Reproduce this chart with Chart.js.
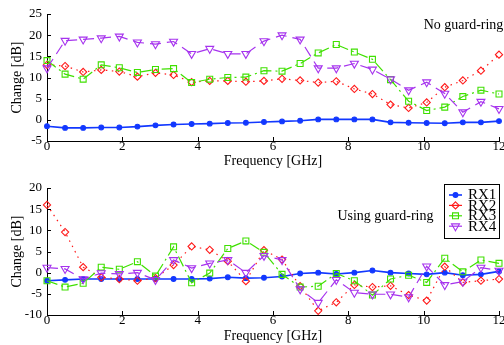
<!DOCTYPE html>
<html><head><meta charset="utf-8">
<script src="https://cdn.jsdelivr.net/npm/chart.js@4/dist/chart.umd.min.js"></script>
<style>
html,body{margin:0;padding:0;background:#fff;overflow:hidden;width:504px;height:345px;}
canvas{position:absolute;left:0;}
#c1{top:0;}
#c2{top:170px;}
</style></head><body>
<canvas id="c1" width="520" height="170"></canvas>
<canvas id="c2" width="520" height="175"></canvas>
<script>
// ---- data ----
const freqs = [0,0.48,0.96,1.44,1.92,2.4,2.88,3.36,3.84,4.32,4.8,5.28,5.76,6.24,6.72,7.2,7.68,8.16,8.64,9.12,9.6,10.08,10.56,11.04,11.52,12];
const seriesNames = ['RX1','RX2','RX3','RX4'];

// No guard-ring
const rx1Top = [-1.5,-1.9,-1.9,-1.8,-1.8,-1.6,-1.3,-1.1,-1.0,-0.9,-0.76,-0.7,-0.5,-0.37,-0.2,0.1,0.1,0.1,0.1,-0.6,-0.7,-0.76,-0.8,-0.6,-0.6,-0.3];
const rx2Top = [13.0,12.7,11.3,11.8,11.4,10.2,11.1,10.6,8.9,9.2,9.2,9.0,9.2,9.7,9.3,8.8,9.1,7.3,6.1,3.6,2.8,4.1,7.7,9.3,11.6,15.4];
const rx3Top = [14.0,10.8,9.6,13.0,12.3,11.2,11.9,12.1,8.8,9.6,10.0,10.1,11.6,11.5,13.3,15.8,17.8,16.0,14.3,9.5,4.4,2.2,3.0,5.5,7.0,6.1];
const rx4Top = [12.2,18.7,19.0,19.3,19.7,18.3,17.9,18.5,15.6,16.8,15.6,15.6,18.6,20.0,19.0,12.2,12.2,13.3,11.9,9.6,7.0,8.9,6.2,1.8,4.3,2.6];

// Using guard-ring
const rx1Bot = [-1.9,-1.7,-1.5,-1.5,-1.5,-1.5,-1.5,-1.5,-1.5,-1.4,-1.1,-1.3,-1.2,-0.9,-0.2,0.0,-0.3,0.0,0.5,0.0,-0.2,-0.4,0.0,-0.6,-0.4,0.3];
const rx2Bot = [16.0,9.6,1.3,-1.1,-1.5,-1.9,-1.3,1.8,6.2,5.4,2.7,-2.0,5.3,3.1,-3.2,-9.0,-7.0,-2.9,-3.4,-3.1,-5.3,-6.6,1.4,-2.3,-1.9,-1.5];
const rx3Bot = [-1.9,-3.4,-2.5,1.3,0.8,2.6,-0.8,6.1,-2.4,-0.1,5.7,7.5,4.8,-0.4,-3.4,-3.2,-0.2,-1.9,-5.3,-1.5,-0.6,-2.3,3.4,0.2,3.0,2.2];
const rx4Bot = [1.2,0.9,-1.5,-0.1,-0.3,0.0,-1.7,3.0,1.1,2.2,3.0,0.0,4.0,3.0,-3.9,-7.1,-1.7,-4.7,-5.1,-5.1,-5.8,1.5,-2.9,-2.1,1.2,0.5];

const xTicks = [0,2,4,6,8,10,12];
const yTicksTop = [-5,0,5,10,15,20,25];
const yTicksBot = [-10,-5,0,5,10,15,20];
const titleTop = 'No guard-ring';
const titleBot = 'Using guard-ring';

// ---- styles ----
const FONT = "'Liberation Serif','Times New Roman',serif";
const styles = [
  {color:'#1238ff', dash:[], width:1.6, pointStyle:'circle', radius:2.4, fill:true, rotation:0},
  {color:'#ff1a1a', dash:[1.5,4.5], width:1.2, pointStyle:'rectRot', radius:3.6, fill:false, rotation:0},
  {color:'#3fe000', dash:[11,4,2,4], width:1.2, pointStyle:'rect', radius:4.2, fill:false, rotation:0},
  {color:'#a633ee', dash:[11,6], width:1.2, pointStyle:'triangle', radius:4.6, fill:false, rotation:180}
];

function makeDatasets(arrs){
  return arrs.map((vals,k)=>{
    const s = styles[k];
    return {
      label: seriesNames[k],
      data: freqs.map((f,i)=>({x:f, y:vals[i]})),
      borderColor: s.color,
      backgroundColor: s.color,
      borderWidth: s.width,
      borderDash: s.dash,
      pointStyle: s.pointStyle,
      pointRadius: s.radius,
      pointRotation: s.rotation,
      pointBorderColor: s.color,
      pointBackgroundColor: s.fill ? s.color : 'rgba(0,0,0,0)',
      pointBorderWidth: 1.1,
      tension: 0,
      clip: false,
      order: 4-k
    };
  });
}

const inwardTicks = {
  id:'inwardTicks',
  afterDraw(chart){
    const {ctx, chartArea:a, scales:{x, y}} = chart;
    ctx.save();
    ctx.strokeStyle = '#000'; ctx.lineWidth = 1;
    ctx.beginPath();
    x.ticks.forEach(t=>{ const px = Math.round(x.getPixelForValue(t.value))+0.5; ctx.moveTo(px, a.bottom); ctx.lineTo(px, a.bottom-4); });
    y.ticks.forEach(t=>{ const py = Math.round(y.getPixelForValue(t.value))+0.5; ctx.moveTo(a.left, py); ctx.lineTo(a.left+4, py); });
    ctx.stroke();
    ctx.restore();
  }
};

const annot = {
  id:'annot',
  afterDraw(chart, args, opts){
    const {ctx, scales:{x, y}} = chart;
    ctx.save();
    ctx.fillStyle = '#000';
    ctx.font = "14px " + FONT;
    ctx.textAlign = 'left'; ctx.textBaseline = 'middle';
    ctx.fillText(opts.text, x.getPixelForValue(opts.x), y.getPixelForValue(opts.y));
    ctx.restore();
  }
};

function drawMarker(ctx, s, cx, cy){
  ctx.save();
  ctx.strokeStyle = s.color; ctx.fillStyle = s.color; ctx.lineWidth = 1.1; ctx.setLineDash([]);
  const r = s.radius;
  ctx.beginPath();
  if (s.pointStyle === 'circle') { ctx.arc(cx, cy, r, 0, Math.PI*2); ctx.fill(); }
  else if (s.pointStyle === 'rectRot') { ctx.moveTo(cx, cy-r); ctx.lineTo(cx+r, cy); ctx.lineTo(cx, cy+r); ctx.lineTo(cx-r, cy); ctx.closePath(); }
  else if (s.pointStyle === 'rect') { const h = r*Math.SQRT1_2; ctx.rect(cx-h, cy-h, 2*h, 2*h); }
  else { const h = r; ctx.moveTo(cx, cy+h); ctx.lineTo(cx + h*0.866, cy - h*0.5); ctx.lineTo(cx - h*0.866, cy - h*0.5); ctx.closePath(); }
  ctx.stroke();
  ctx.restore();
}

const legendBox = {
  id:'legendBox',
  afterDraw(chart){
    const {ctx, chartArea:a} = chart;
    const left = a.right - 55, top = a.top - 4.5, w = 55, h = 54;
    ctx.save();
    ctx.fillStyle = '#fff'; ctx.fillRect(left, top, w, h);
    ctx.strokeStyle = '#000'; ctx.lineWidth = 1;
    ctx.strokeRect(Math.round(left)+0.5, Math.round(top)+0.5, w, h);
    chart.data.datasets.forEach((ds, k)=>{
      const s = styles[k];
      const cy = top + 11.5 + k*10.4;
      ctx.save();
      ctx.strokeStyle = s.color; ctx.lineWidth = s.width; ctx.setLineDash([]);
      ctx.beginPath(); ctx.moveTo(left+5, cy); ctx.lineTo(left+18, cy); ctx.stroke();
      ctx.restore();
      drawMarker(ctx, s, left+11.5, cy);
      ctx.fillStyle = '#000'; ctx.font = "15px " + FONT;
      ctx.textAlign = 'left'; ctx.textBaseline = 'middle';
      ctx.fillText(ds.label, left+24, cy+0.5);
    });
    ctx.restore();
  }
};

function makeChart(id, arrs, yTicks, padTop, xHeight, text, tx, ty, withLegend){
  const plugins = [inwardTicks, annot];
  if (withLegend) plugins.push(legendBox);
  return new Chart(document.getElementById(id), {
    type:'line',
    data:{ datasets: makeDatasets(arrs) },
    plugins,
    options:{
      responsive:false, animation:false, devicePixelRatio:1,
      layout:{ padding:{ top:padTop, right:21, left:0, bottom:0 } },
      plugins:{ legend:{display:false}, tooltip:{enabled:false}, annot:{text, x:tx, y:ty} },
      scales:{
        x:{
          type:'linear', min:xTicks[0], max:xTicks[xTicks.length-1],
          afterBuildTicks: s => { s.ticks = xTicks.map(v=>({value:v})); },
          ticks:{ color:'#000', font:{family:FONT, size:13, lineHeight:1}, padding:-1, maxRotation:0, autoSkip:false },
          grid:{ display:true, drawOnChartArea:false, drawTicks:false },
          border:{ display:true, color:'#000', width:1 },
          title:{ display:true, text:'Frequency [GHz]', color:'#000', font:{family:FONT, size:14}, padding:{top:0, bottom:0.6} },
          afterFit: s => { s.height = xHeight; }
        },
        y:{
          type:'linear', min:yTicks[0], max:yTicks[yTicks.length-1],
          afterBuildTicks: s => { s.ticks = yTicks.map(v=>({value:v})); },
          ticks:{ color:'#000', font:{family:FONT, size:13}, padding:5, autoSkip:false },
          grid:{ display:true, drawOnChartArea:false, drawTicks:false },
          border:{ display:true, color:'#000', width:1 },
          title:{ display:true, text:'Change [dB]', color:'#000', font:{family:FONT, size:14}, padding:{top:8.6, bottom:0} },
          afterFit: s => { s.width = 47; }
        }
      }
    }
  });
}

makeChart('c1', [rx1Top, rx2Top, rx3Top, rx4Top], yTicksTop, 14, 29, titleTop, 10.0, 22.4, false);
makeChart('c2', [rx1Bot, rx2Bot, rx3Bot, rx4Bot], yTicksBot, 18, 30, titleBot, 7.71, 13.3, true);
</script>
</body></html>
